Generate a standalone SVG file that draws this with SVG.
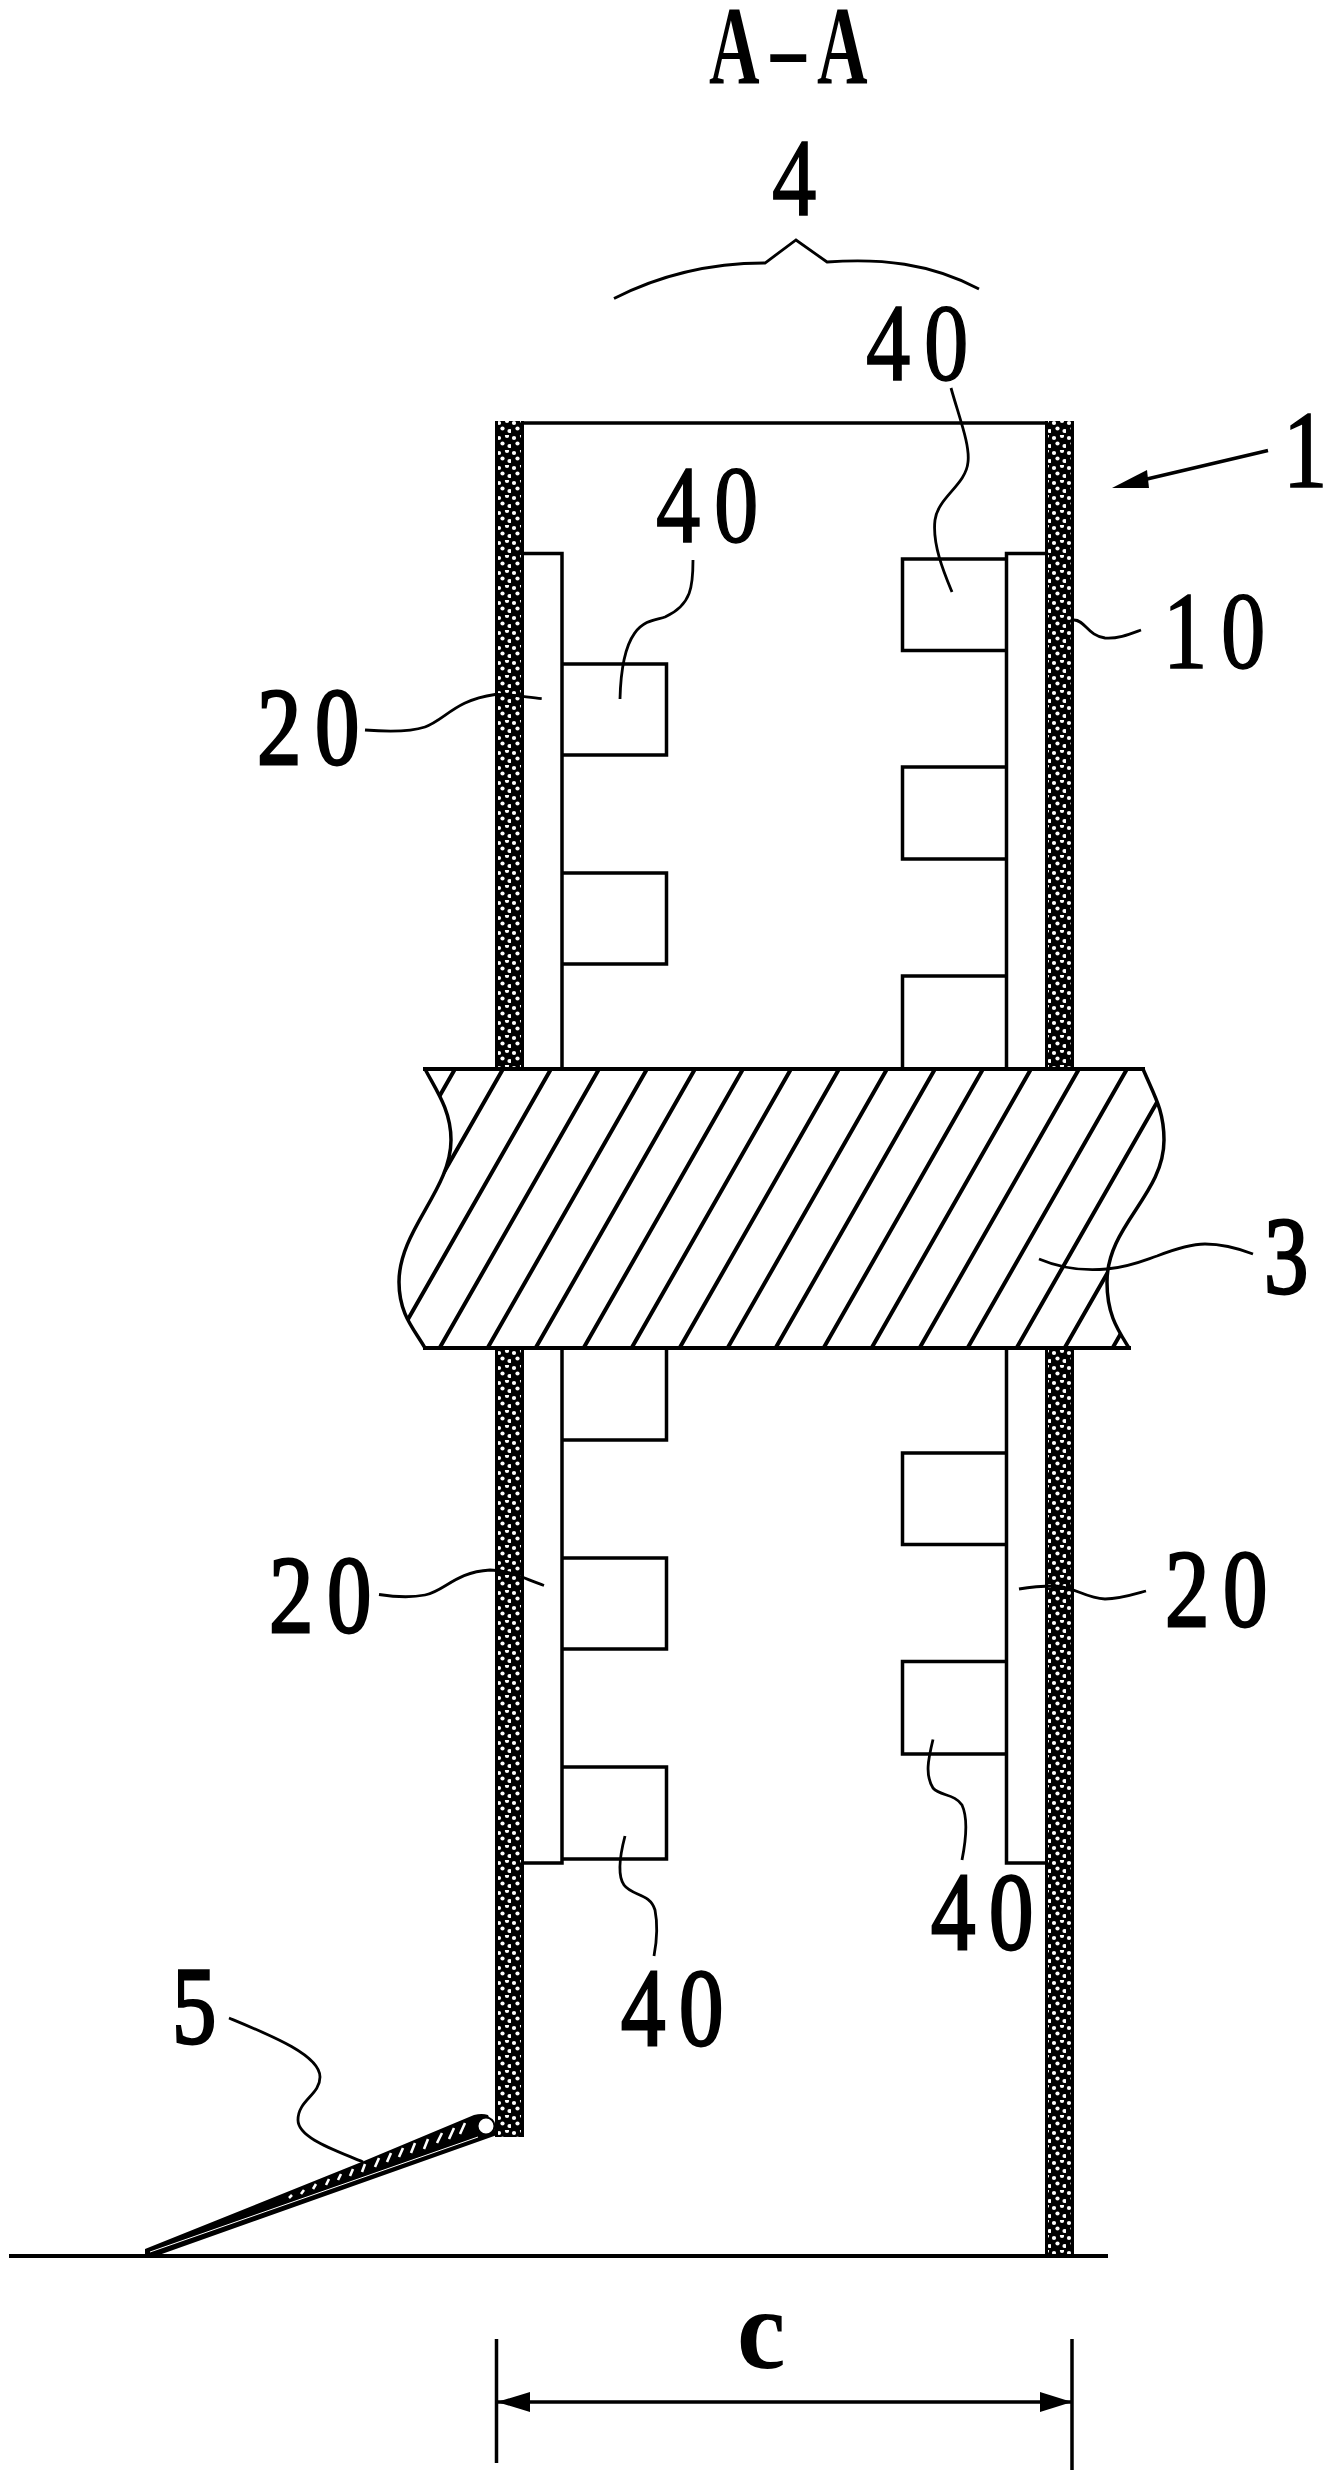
<svg xmlns="http://www.w3.org/2000/svg" width="1334" height="2482" viewBox="0 0 1334 2482">
<style>
.l{fill:#fff;stroke:#000;stroke-width:3.5}
.n{fill:none;stroke:#000;stroke-width:3.5}
.h{fill:none;stroke:#000;stroke-width:4}
.c{fill:none;stroke:#000;stroke-width:2.8}
.w{fill:url(#dots);stroke:#000;stroke-width:0}
.d{font-family:"Liberation Serif",serif;font-size:111px;letter-spacing:17px;fill:#000;stroke:#000;stroke-width:1.6}
.o{letter-spacing:0}
.b{stroke-width:2.8}
</style>
<defs>
<pattern id="dots" patternUnits="userSpaceOnUse" x="496" y="420" width="15" height="15">
<rect width="15" height="15" fill="#000"/>
<g fill="#fff"><circle cx="3" cy="3" r="2.1"/><circle cx="11" cy="1" r="2.1"/><circle cx="6.5" cy="8.5" r="2.1"/><circle cx="13.5" cy="11" r="2.1"/></g>
</pattern>
<clipPath id="shaftClip"><path d="M425 1069 C436 1090 451 1110 451 1140 C451 1190 399 1230 399 1282 C399 1315 415 1330 425 1348 L1129 1348 C1118 1330 1107 1315 1107 1282 C1107 1225 1164 1195 1164 1140 C1164 1110 1154 1095 1143 1069 Z"/></clipPath>
</defs>
<rect width="1334" height="2482" fill="#fff"/>
<g id="walls">
<rect class="w" x="495" y="421" width="29" height="648"/>
<rect class="w" x="1045" y="421" width="29" height="648"/>
<rect class="w" x="495" y="1348" width="29" height="789"/>
<rect class="w" x="1045" y="1348" width="29" height="908"/>
<path d="M496.5 421V1069M522.5 421V1069M1046.5 421V1069M1072.5 421V1069M496.5 1348V2137M522.5 1348V2137M1046.5 1348V2256M1072.5 1348V2256" fill="none" stroke="#000" stroke-width="3"/>
</g>
<g id="top"><path class="n" d="M524 423H1045"/></g>
<g id="panels">
<path class="n" d="M524 553.5H562V1069M1045 553.5H1006.5V1069"/>
<path class="n" d="M524 1863H562V1348M1045 1863H1006.5V1348"/>
</g>
<g id="boxes">
<path class="n" d="M562 664H666.5V755H562"/>
<path class="n" d="M562 873H666.5V964H562"/>
<path class="n" d="M1006.5 559H902.5V650.5H1006.5"/>
<path class="n" d="M1006.5 767H902.5V859H1006.5"/>
<path class="n" d="M1006.5 976H902.5V1069"/>
<path class="n" d="M666.5 1348V1440H562"/>
<path class="n" d="M562 1558H666.5V1649H562"/>
<path class="n" d="M562 1767H666.5V1859H562"/>
<path class="n" d="M1006.5 1453H902.5V1544.5H1006.5"/>
<path class="n" d="M1006.5 1661.5H902.5V1754H1006.5"/>
</g>
<g id="shaft">
<path d="M425 1069 C436 1090 451 1110 451 1140 C451 1190 399 1230 399 1282 C399 1315 415 1330 425 1348 L1129 1348 C1118 1330 1107 1315 1107 1282 C1107 1225 1164 1195 1164 1140 C1164 1110 1154 1095 1143 1069 Z" fill="#fff" stroke="none"/>
<g clip-path="url(#shaftClip)"><path class="h" d="M455 1069L295 1349M503 1069L343 1349M551 1069L391 1349M599 1069L439 1349M647 1069L487 1349M695 1069L535 1349M743 1069L583 1349M791 1069L631 1349M839 1069L679 1349M887 1069L727 1349M935 1069L775 1349M983 1069L823 1349M1031 1069L871 1349M1079 1069L919 1349M1127 1069L967 1349M1176 1069L1016 1349M1224 1069L1064 1349M1272 1069L1112 1349"/></g>
<path class="n" d="M425 1069 C436 1090 451 1110 451 1140 C451 1190 399 1230 399 1282 C399 1315 415 1330 425 1348"/>
<path class="n" d="M1143 1069 C1154 1095 1164 1110 1164 1140 C1164 1195 1107 1225 1107 1282 C1107 1315 1118 1330 1129 1348"/>
<path class="h" d="M423 1069H1145M423 1348H1131"/>
</g>
<g id="ground"><path d="M9 2256H1108" fill="none" stroke="#000" stroke-width="4"/></g>
<g id="flap">
<path d="M145 2249L364 2161L474 2115Q482 2113 488 2115L497 2135L159 2255L145 2255Z" fill="#000"/>
<path d="M150 2252L478 2137" stroke="#fff" stroke-width="1" fill="none"/>
<path d="M460 2134L465 2123M449 2139L454 2128M437 2143L442 2133M424 2149L428 2139M411 2153L415 2143M399 2157L403 2148M387 2162L391 2153M375 2167L379 2158M362 2172L365 2164M350 2176L353 2169M338 2180L341 2174M326 2185L329 2179M313 2189L316 2184M301 2194L304 2190M289 2198L292 2195" stroke="#fff" stroke-width="2.6" fill="none"/>
<circle cx="486" cy="2126" r="8.5" fill="#fff" stroke="#000" stroke-width="2"/>
</g>
<g id="connectors">
<path class="c" d="M951 388 C960 420 970 445 968 462 C966 485 938 497 935 520 C932 545 945 575 952 592"/>
<path class="c" d="M693 560 C693 585 692 605 665 617 C650 622 622 618 620 699"/>
<path class="c" d="M365 730 C390 732 410 732 425 727 C445 720 455 700 495 694.5 C510 694 525 697 541.7 698.6"/>
<path class="c" d="M1074 620 C1085 620 1088 636 1105 638 C1118 639 1130 634 1141 630"/>
<path class="c" d="M1039 1259 C1060 1268 1085 1271 1107 1269 C1130 1267 1145 1260 1157 1256 C1175 1249 1190 1244 1205 1244 C1225 1244 1240 1249 1253 1254"/>
<path class="c" d="M379 1594.5 C395 1597 410 1598 425 1595 C445 1591 455 1572 490 1570 C510 1570 525 1579 544 1585.5"/>
<path class="c" d="M625 1836 C620 1855 617 1875 624 1885 C632 1896 650 1893 655 1910 C658 1925 657 1940 654 1956"/>
<path class="c" d="M1019 1589 C1030 1587 1040 1586 1055 1586 C1075 1587 1085 1598 1105 1599 C1120 1599 1135 1594 1146 1591"/>
<path class="c" d="M933 1739.5 C928 1760 925 1775 933 1788 C940 1796 955 1794 962 1805 C968 1818 966 1840 962 1860"/>
<path class="c" d="M229 2018 C270 2035 320 2055 320 2077 C320 2095 298 2100 298 2120 C298 2138 335 2150 363 2162"/>
<path class="c" d="M614 298.5 C660 275 710 263 765 263 L796 240 L827 262 C880 258 930 263 979 289"/>
<path class="n" d="M1268 450.5L1147 479"/>
<polygon points="1112,488 1147,470 1149,488" fill="#000"/>
<path class="n" d="M496.5 2339V2463M1072 2339V2470M497 2402H1072"/>
<polygon points="497,2402 530,2392 530,2412" fill="#000"/>
<polygon points="1072,2402 1040,2392 1040,2412" fill="#000"/>
</g>
<g id="labels">
<text id="title" class="d" transform="translate(709,84) scale(.62,1)" style="font-size:113px;letter-spacing:18px;font-weight:bold;stroke-width:0">A–A</text>
<text class="d o" transform="translate(772,215) scale(.8,1)">4</text>
<text class="d" transform="translate(866,380) scale(.8,1)">40</text>
<text class="d" transform="translate(656,542) scale(.8,1)">40</text>
<text class="d o" transform="translate(1283,487) scale(.8,1)">1</text>
<text class="d" transform="translate(1163,668) scale(.8,1)">10</text>
<text class="d b" transform="translate(257,764) scale(.8,1)">20</text>
<text class="d o b" transform="translate(1264,1293) scale(.8,1)">3</text>
<text class="d b" transform="translate(269,1632) scale(.8,1)">20</text>
<text class="d b" transform="translate(621,2045) scale(.8,1)">40</text>
<text class="d b" transform="translate(1165,1626) scale(.8,1)">20</text>
<text class="d b" transform="translate(931,1949) scale(.8,1)">40</text>
<text class="d o b" transform="translate(172,2043) scale(.8,1)">5</text>
<text class="d o" transform="translate(737,2368) scale(.95,1)" style="font-size:115px;font-weight:bold;stroke-width:0">c</text>
</g>
</svg>
